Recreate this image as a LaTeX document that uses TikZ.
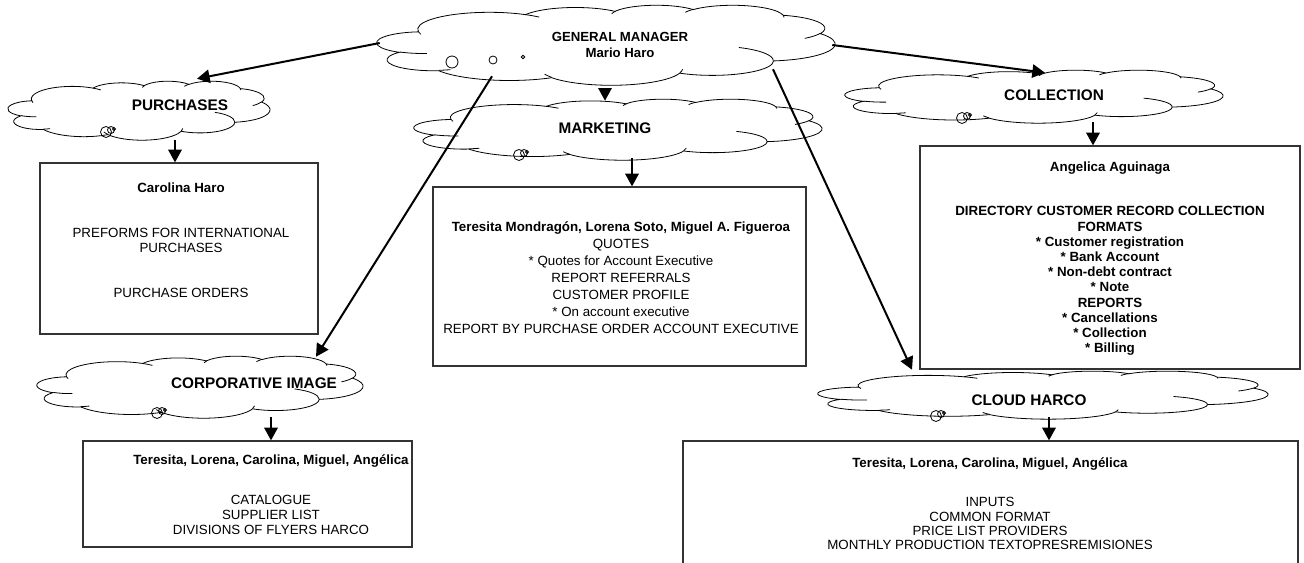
\documentclass[tikz,border=0pt]{standalone}
\usepackage{fontspec}
\setmainfont{Liberation Sans}
\usetikzlibrary{arrows.meta,calc}
\tikzset{
  cloudline/.style={draw=black,line width=0.6pt},
  cloudframe/.style={draw=none,inner sep=0pt,rectangle},
  boxstyle/.style={draw=black!80,line width=0.9pt,inner sep=0pt,rectangle},
  txt/.style={font=\fontsize{10}{11}\selectfont,align=center,inner sep=0pt},
  lab/.style={font=\bfseries\fontsize{11.5}{13}\selectfont,align=center,inner sep=0pt},
  conn/.style={line width=1.5pt,-{Triangle[length=9.5pt,width=10pt]}},
}
% OOXML-style arc: w h start(visual) sweep(visual)
\newcommand{\ooarc}[4]{\pgfextra{%
  \pgfmathparse{atan2((#1)*sin(#3),(#2)*cos(#3))}\xdef\oots{\pgfmathresult}%
  \pgfmathparse{atan2((#1)*sin((#3)+(#4)),(#2)*cos((#3)+(#4)))}\xdef\oote{\pgfmathresult}%
  \pgfmathparse{Mod(\oote-(\oots),360)}\xdef\oodd{\pgfmathresult}}%
  arc[start angle=\oots, delta angle=\oodd, x radius=#1, y radius=#2]}
% cloud: name, left, top, width, height
\newcommand{\wcloud}[5]{%
  \node[cloudframe,minimum width=#4*0.75pt,minimum height=#5*0.75pt] (#1) at (#2+#4/2,#3+#5/2) {};
  \pgfmathsetmacro\cwx{#4/432*0.75}\pgfmathsetmacro\chy{#5/432*0.75}
  \begin{scope}[shift={(#2,#3)},x=\cwx pt,y=-\chy pt]
    \draw[cloudline] (39.00,143.70)
      \ooarc{67.53}{91.90}{-190.487}{123.781}
      \ooarc{53.33}{72.67}{-144.102}{89.945}
      \ooarc{43.65}{59.45}{-145.808}{99.723}
      \ooarc{48.57}{65.95}{-130.986}{117.242}
      \ooarc{53.33}{72.73}{-78.709}{109.027}
      \ooarc{67.75}{92.20}{-46.267}{130.269}
      \ooarc{57.85}{78.67}{0.625}{114.033}
      \ooarc{67.52}{92.15}{22.452}{115.173}
      \ooarc{77.20}{105.43}{66.243}{75.711}
      \ooarc{43.60}{59.18}{-274.942}{146.736}
      \ooarc{43.45}{59.45}{-246.829}{152.519} -- cycle;
    \draw[cloudline]
      (46.93,261.77) \ooarc{43.45}{59.45}{86.742}{26.430}
      (69.28,348.99) \ooarc{43.60}{59.18}{73.610}{11.447}
      (164.78,390.90) \ooarc{67.52}{92.15}{137.624}{14.081}
      (288.27,347.51) \ooarc{67.52}{92.15}{6.453}{15.998}
      (341.29,229.54) \ooarc{57.85}{78.67}{-70.292}{70.917}
      (417.98,153.54) \ooarc{53.33}{72.73}{30.318}{27.752}
      (383.24,54.26) \ooarc{48.57}{65.95}{-13.744}{14.859}
      (290.78,39.52) \ooarc{48.57}{65.95}{-149.181}{18.195}
      (221.41,47.20) \ooarc{43.65}{59.45}{-163.494}{17.686}
      (140.00,51.92) \ooarc{67.53}{91.90}{-66.707}{12.319}
      (41.27,157.89) \ooarc{67.53}{91.90}{157.654}{11.858};
  \end{scope}}
\newcommand{\bubbles}[2]{%
  \draw[cloudline] (#1,#2) circle[radius=5.5];
  \draw[cloudline] (#1+5,#2-2) circle[radius=3.5];
  \draw[cloudline] (#1+8,#2-3) circle[radius=1.5];}
\begin{document}
\begin{tikzpicture}[x=0.75pt,y=-0.75pt]
\useasboundingbox (0,0) rectangle (1304,563);
\fill[white] (0,0) rectangle (1304,563);

% clouds
\wcloud{gm}{377}{5}{458}{80}
\wcloud{pc}{8}{81}{262}{59}
\wcloud{mk}{414}{99}{408}{61}
\wcloud{cl}{845}{70}{378}{53}
\wcloud{ci}{37}{356}{326}{62}
\wcloud{hc}{818}{371}{450}{48}

% callout bubbles
\draw[cloudline] (452,62) circle[radius=6];
\draw[cloudline] (493,60) circle[radius=4];
\draw[cloudline] (523,57) circle[radius=1.8];
\bubbles{106}{132}
\bubbles{519}{155}
\bubbles{962}{118}
\bubbles{157}{413}
\bubbles{936}{416}

% cloud labels
\node[lab,font=\bfseries\fontsize{9.9}{12}\selectfont] (gmt) at (620,45) {GENERAL MANAGER\\Mario Haro};
\node[lab] (pct) at (180,105) {PURCHASES};
\node[lab] (mkt) at (605,128) {MARKETING};
\node[lab] (clt) at (1054,95) {COLLECTION};
\node[lab] (cit) at (254,383) {CORPORATIVE IMAGE};
\node[lab] (hct) at (1029,400) {CLOUD HARCO};

% boxes
\node[boxstyle,minimum width=278*0.75pt,minimum height=171*0.75pt] (pb) at (179,248.5) {};
\node[boxstyle,minimum width=373*0.75pt,minimum height=179*0.75pt] (mb) at (619.5,276.5) {};
\node[boxstyle,minimum width=380*0.75pt,minimum height=223*0.75pt] (cb) at (1110,257.5) {};
\node[boxstyle,minimum width=329*0.75pt,minimum height=106*0.75pt] (ib) at (247.5,494) {};
\node[boxstyle,minimum width=615*0.75pt,minimum height=150*0.75pt] (hb) at (990.5,516) {};

% box texts
\node[txt,anchor=north] (pbt) at (181,183)
  {\textbf{Carolina Haro}\\[22.75pt]PREFORMS FOR INTERNATIONAL\\PURCHASES\\[22.75pt]PURCHASE ORDERS};
\node[txt,anchor=north,font=\fontsize{10}{12.75}\selectfont] (mbt) at (621,221)
  {\textbf{Teresita Mondragón, Lorena Soto, Miguel A. Figueroa}\\QUOTES\\* Quotes for Account Executive\\REPORT REFERRALS\\CUSTOMER PROFILE\\* On account executive\\REPORT BY PURCHASE ORDER ACCOUNT EXECUTIVE};
\node[txt,anchor=north,font=\bfseries\fontsize{10}{11.4}\selectfont] (cbt) at (1110,162)
  {Angelica Aguinaga\\[21.6pt]DIRECTORY CUSTOMER RECORD COLLECTION\\FORMATS\\* Customer registration\\* Bank Account\\* Non-debt contract\\* Note\\REPORTS\\* Cancellations\\* Collection\\* Billing};
\node[txt,anchor=north,font=\fontsize{10}{11.1}\selectfont] (ibt) at (271,454)
  {\textbf{Teresita, Lorena, Carolina, Miguel, Angélica}\\[19.6pt]CATALOGUE\\SUPPLIER LIST\\DIVISIONS OF FLYERS HARCO};
\node[txt,anchor=north,font=\fontsize{10}{10.75}\selectfont] (hbt) at (990,457)
  {\textbf{Teresita, Lorena, Carolina, Miguel, Angélica}\\[19.1pt]INPUTS\\COMMON FORMAT\\PRICE LIST PROVIDERS\\MONTHLY PRODUCTION TEXTOPRESREMISIONES};

% short connectors
\draw[conn] ([shift={(36,0)}]pc.south) -- ([shift={(-4,0)}]pb.north);
\draw[conn] ([shift={(-1,3)}]gm.south) -- ([shift={(-13,2)}]mk.north);
\draw[conn] ([shift={(14,-2)}]mk.south) -- ([shift={(12.5,0)}]mb.north);
\draw[conn] ([shift={(59,-1)}]cl.south) -- ([shift={(-17,0)}]cb.north);
\draw[conn] ([shift={(71,-1)}]ci.south) -- ([shift={(23.5,0)}]ib.north);
\draw[conn] ([shift={(6,-2)}]hc.south) -- ([shift={(58.5,0)}]hb.north);

% long connectors
\draw[conn] ([shift={(3,-2)}]gm.west) -- ([shift={(58,-2)}]pc.north);
\draw[conn] ([shift={(-3,0)}]gm.east) -- ([shift={(11,3)}]cl.north);
\draw[conn] ([shift={(-114,-9)}]gm.south) -- ([shift={(116,1)}]ci.north);
\draw[conn] ([shift={(167,-16)}]gm.south) -- ([shift={(-131,-1)}]hc.north);
\end{tikzpicture}
\end{document}
